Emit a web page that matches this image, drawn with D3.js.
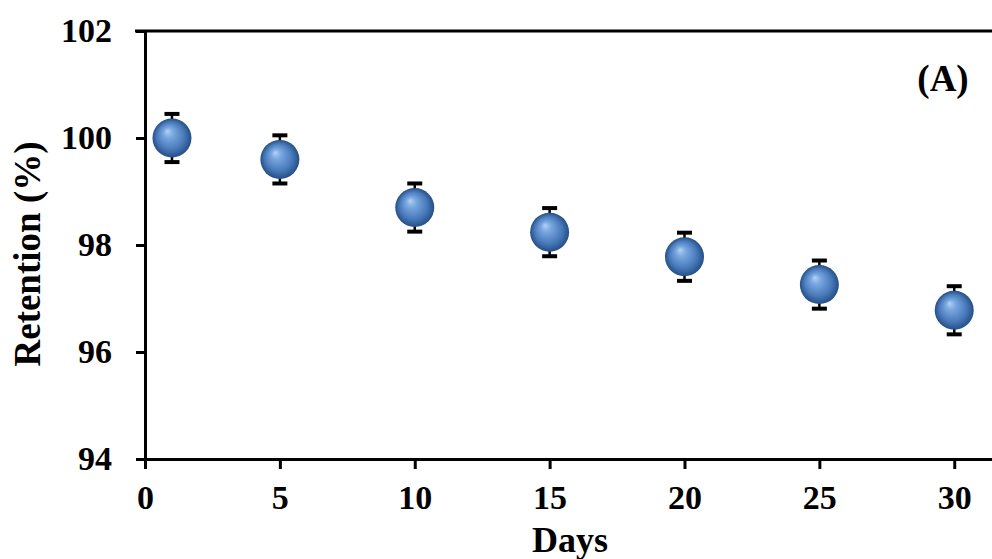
<!DOCTYPE html>
<html>
<head>
<meta charset="utf-8">
<script src="https://cdn.jsdelivr.net/npm/d3@7"></script>
<style>
  body { margin: 0; background: #fff; }
  svg { display: block; }
  text { font-family: "Liberation Serif", "Times New Roman", serif; font-weight: bold; fill: #000; }
</style>
</head>
<body>
<div id="chart"></div>
<script>
let width = 992
  , height = 559
  , radius = 19.5
  , capW = 15;

// data
let days = [1, 5, 10, 15, 20, 25, 30];
let retention = [100.0, 99.6, 98.7, 98.24, 97.78, 97.26, 96.78];
let errors = [0.45, 0.45, 0.45, 0.45, 0.45, 0.45, 0.45];
let xTicks = [0, 5, 10, 15, 20, 25, 30];
let yTicks = [94, 96, 98, 100, 102];

let x = d3.scaleLinear().domain([0, 31.4]).range([145, 992]);
let y = d3.scaleLinear().domain([94, 102]).range([459, 31]);

let svg = d3.select("#chart").append("svg").attr("width", width).attr("height", height);

let defs = svg.append("defs");
let grad = defs.append("radialGradient").attr("id", "ball")
  .attr("cx", "50%").attr("cy", "50%").attr("r", "50%")
  .attr("fx", "38%").attr("fy", "32%");
grad.append("stop").attr("offset", "0%").attr("stop-color", "#b4d2f4");
grad.append("stop").attr("offset", "25%").attr("stop-color", "#7aa8e0");
grad.append("stop").attr("offset", "70%").attr("stop-color", "#4879ba");
grad.append("stop").attr("offset", "100%").attr("stop-color", "#254f84");

// top border
svg.append("line")
  .attr("x1", 135).attr("x2", width)
  .attr("y1", y(102)).attr("y2", y(102))
  .attr("stroke", "#000").attr("stroke-width", 3);

let yAxis = svg.append("g")
  .attr("transform", "translate(" + x(0) + ",0)")
  .call(d3.axisLeft(y).tickValues(yTicks).tickSize(9).tickSizeOuter(0).tickPadding(24));

let xAxis = svg.append("g")
  .attr("transform", "translate(0," + y(94) + ")")
  .call(d3.axisBottom(x).tickValues(xTicks).tickSize(10).tickSizeOuter(0).tickPadding(16));

[xAxis, yAxis].forEach(g => {
  g.select(".domain").attr("stroke", "#000").attr("stroke-width", 3);
  g.selectAll(".tick line").attr("stroke", "#000").attr("stroke-width", 3);
  g.selectAll(".tick text")
    .style("font-family", '"Liberation Serif", "Times New Roman", serif')
    .style("font-weight", "bold")
    .style("font-size", "34px")
    .attr("fill", "#000");
});

let pts = days.map((d, i) => ({ day: d, v: retention[i], e: errors[i] }));

// error bars
let eb = svg.append("g").selectAll("g").data(pts).enter().append("g");
eb.append("line")
  .attr("x1", d => x(d.day)).attr("x2", d => x(d.day))
  .attr("y1", d => y(d.v + d.e)).attr("y2", d => y(d.v - d.e))
  .attr("stroke", "#000").attr("stroke-width", 2.5);
eb.append("line")
  .attr("x1", d => x(d.day) - capW / 2).attr("x2", d => x(d.day) + capW / 2)
  .attr("y1", d => y(d.v + d.e)).attr("y2", d => y(d.v + d.e))
  .attr("stroke", "#000").attr("stroke-width", 4);
eb.append("line")
  .attr("x1", d => x(d.day) - capW / 2).attr("x2", d => x(d.day) + capW / 2)
  .attr("y1", d => y(d.v - d.e)).attr("y2", d => y(d.v - d.e))
  .attr("stroke", "#000").attr("stroke-width", 4);

// sphere markers
svg.append("g").selectAll("circle").data(pts).enter()
  .append("circle")
  .attr("cx", d => x(d.day)).attr("cy", d => y(d.v))
  .attr("r", radius)
  .attr("fill", "url(#ball)");

// labels
svg.append("text")
  .attr("x", 570).attr("y", 552)
  .attr("text-anchor", "middle")
  .style("font-size", "36px")
  .text("Days");

svg.append("text")
  .attr("transform", "translate(40,254) rotate(-90)")
  .attr("text-anchor", "middle")
  .style("font-size", "37px")
  .text("Retention (%)");

svg.append("text")
  .attr("x", 943).attr("y", 91)
  .attr("text-anchor", "middle")
  .style("font-size", "37px")
  .text("(A)");
</script>
</body>
</html>
